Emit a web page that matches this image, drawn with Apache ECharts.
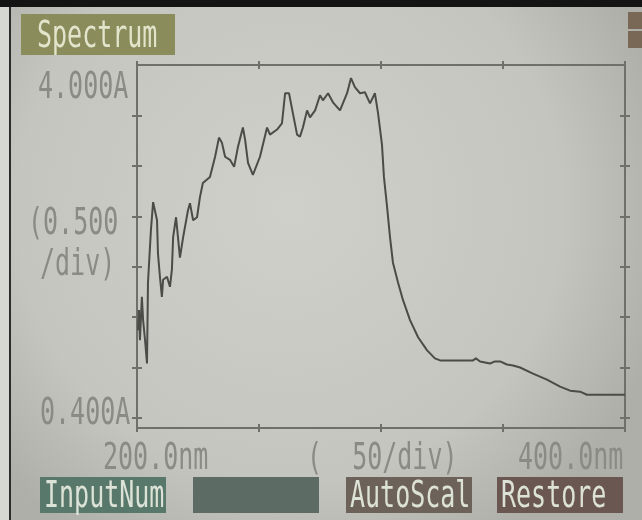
<!DOCTYPE html>
<html>
<head>
<meta charset="utf-8">
<script src="https://cdn.jsdelivr.net/npm/echarts@6/dist/echarts.min.js"></script>
<style>html,body{margin:0;padding:0;background:#c4c5be;}#c{width:642px;height:520px;}</style>
</head>
<body>
<div id="c"></div>
<script>
// ---- data ----
const wavelength = [200.4,200.8,201.2,202.0,202.5,203.3,204.1,204.5,205.7,206.6,207.4,208.2,208.6,209.4,210.2,210.7,212.3,213.5,214.3,214.8,216.0,216.8,217.6,218.9,220.9,221.7,223.0,224.6,225.8,227.0,229.9,232.0,233.6,234.8,236.1,238.1,239.8,241.4,243.4,244.3,245.5,247.5,250.4,253.3,254.5,257.4,259.4,260.7,262.3,263.9,265.6,266.8,268.0,269.7,270.9,273.0,275.0,276.2,278.3,280.3,283.2,286.1,287.7,289.3,291.4,293.4,295.5,297.5,298.8,300.4,301.2,302.5,303.7,304.9,307.0,309.0,311.9,315.2,318.9,322.1,324.2,337.7,338.9,340.6,344.7,346.7,348.8,351.6,354.1,357.0,362.3,368.0,373.4,377.5,381.6,384.4,400.0];
const absorbance = [1.37,1.57,1.27,1.70,1.47,1.27,1.04,1.84,2.36,2.64,2.64,2.46,2.13,1.90,1.70,1.87,1.90,1.80,1.97,2.29,2.49,2.29,2.09,2.29,2.56,2.63,2.46,2.49,2.69,2.83,2.89,3.09,3.28,3.23,3.09,3.06,2.99,3.19,3.38,3.26,3.03,2.91,3.09,3.38,3.31,3.36,3.42,3.72,3.72,3.52,3.31,3.29,3.38,3.55,3.48,3.55,3.70,3.65,3.72,3.63,3.55,3.72,3.87,3.78,3.72,3.73,3.62,3.72,3.52,3.21,2.89,2.59,2.29,2.04,1.84,1.67,1.47,1.30,1.17,1.09,1.07,1.07,1.09,1.06,1.04,1.06,1.06,1.03,1.02,1.00,0.94,0.88,0.81,0.77,0.76,0.73,0.73];
const xRange = [200, 400];
const xStep = 50;
const yRange = [0.4, 4.0];
const yTicks = [0.5, 1.0, 1.5, 2.0, 2.5, 3.0, 3.5];
const yEndLabels = ['4.000A', '0.400A'];
const yDivLabels = ['(0.500', '/div)'];
const xEndLabels = ['200.0nm', '400.0nm'];
const xDivLabel = '(  50/div)';
const titleText = 'Spectrum';
const buttons = ['InputNum', '', 'AutoScal', 'Restore'];

const chart = echarts.init(document.getElementById('c'), null, {renderer: 'canvas'});

const AXIS_COLOR = '#6f706a';
const FONT = '25px "DejaVu Sans Mono"';
const SY = 1.5;

function xAx(pos, inside) {
  return {
    type: 'value', position: pos, min: xRange[0], max: xRange[1], interval: xStep,
    axisLine: {show: true, lineStyle: {color: AXIS_COLOR, width: 2}},
    axisTick: {show: true, inside: inside, length: 4, lineStyle: {color: AXIS_COLOR, width: 2}},
    axisLabel: {show: false}, splitLine: {show: false}
  };
}
function yAx(pos, inside) {
  return {
    type: 'value', position: pos, min: yRange[0], max: yRange[1],
    axisLine: {show: true, lineStyle: {color: AXIS_COLOR, width: 2}},
    axisTick: {show: true, inside: inside, length: 5, customValues: yTicks, lineStyle: {color: AXIS_COLOR, width: 2}},
    axisLabel: {show: false}, splitLine: {show: false}
  };
}

function txt(t, x, yc, fill, extra) {
  return Object.assign({
    type: 'text', x: x, y: yc, scaleY: SY, z: 20,
    style: {text: t, font: FONT, fill: fill, align: 'left', verticalAlign: 'middle'}
  }, extra || {});
}

const LABEL = '#8a8b85';
const BTN_TXT = '#dde2d6';
const btnColors = ['#58786c', '#5c6c65', '#6c6259', '#6b5751'];
const btnX = [40, 193, 346, 497];

const graphics = [
  {type: 'rect', z: -100, shape: {x: 0, y: 0, width: 642, height: 520},
   style: {fill: new echarts.graphic.RadialGradient(0.45, 0.4, 0.75, [
     {offset: 0, color: '#cfd0c9'}, {offset: 0.7, color: '#c4c5be'}, {offset: 1, color: '#aeafa8'}])}},
  {type: 'rect', z: 30, shape: {x: 0, y: 0, width: 642, height: 7}, style: {fill: '#141414'}},
  {type: 'rect', z: 30, shape: {x: 0, y: 7, width: 9, height: 513}, style: {fill: '#d6d6d2'}},
  {type: 'rect', z: 30, shape: {x: 9, y: 7, width: 2, height: 513}, style: {fill: '#2c2c2c'}},
  {type: 'rect', z: 10, shape: {x: 21, y: 14, width: 154, height: 41}, style: {fill: '#8a8c5b'}},
  txt(titleText, 37, 37, '#e2e5cb'),
  {type: 'rect', z: 10, shape: {x: 628, y: 12, width: 14, height: 17}, style: {fill: '#7a6856'}},
  {type: 'rect', z: 10, shape: {x: 628, y: 31, width: 14, height: 17}, style: {fill: '#7a6856'}},
  txt(yEndLabels[0], 38, 88, LABEL),
  txt(yDivLabels[0], 28, 224, LABEL),
  txt(yDivLabels[1], 40, 265, LABEL),
  txt(yEndLabels[1], 40, 414, LABEL),
  txt(xEndLabels[0], 103, 459, LABEL),
  txt(xDivLabel, 307, 459, LABEL),
  txt(xEndLabels[1], 518, 459, LABEL)
];
buttons.forEach(function (b, i) {
  graphics.push({type: 'rect', z: 10, shape: {x: btnX[i], y: 477, width: 126, height: 36}, style: {fill: btnColors[i]}});
  if (b) graphics.push(txt(b, btnX[i] + 4, 497, BTN_TXT));
});

chart.setOption({
  animation: false,
  backgroundColor: 'transparent',
  grid: {left: 137, right: 17, top: 65, bottom: 92, containLabel: false},
  xAxis: [xAx('bottom', false), xAx('bottom', true), xAx('top', false), xAx('top', true)],
  yAxis: [yAx('left', false), yAx('left', true), yAx('right', false), yAx('right', true)],
  graphic: graphics,
  series: [{
    type: 'line', xAxisIndex: 0, yAxisIndex: 0,
    data: wavelength.map(function (w, i) { return [w, absorbance[i]]; }),
    showSymbol: false, symbol: 'none', smooth: false,
    lineStyle: {color: '#4b4b48', width: 2}
  }]
});
</script>
</body>
</html>
